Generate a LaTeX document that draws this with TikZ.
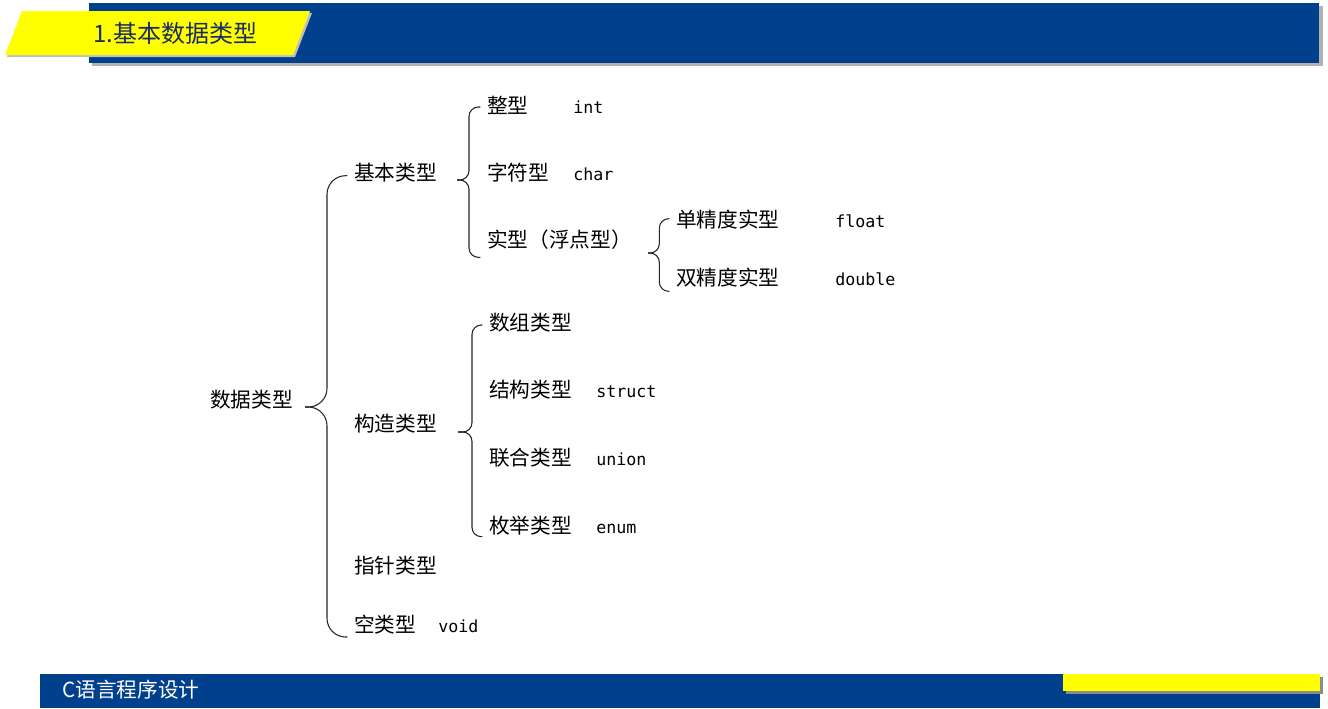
\documentclass[tikz,border=0pt]{standalone}
\usepackage{fontspec}
\newfontfamily\cjk{Noto Sans CJK SC}
\newfontfamily\codefont{DejaVu Sans Mono}
\usetikzlibrary{positioning}
\definecolor{barblue}{RGB}{0,64,140}
\definecolor{baryellow}{RGB}{255,255,0}
\definecolor{titleblue}{RGB}{25,45,100}

\begin{document}
\begin{tikzpicture}[x=0.75pt, y=-0.75pt,
  item/.style={anchor=west, inner sep=0pt, font=\cjk\fontsize{15.5}{18}\selectfont},
  code/.style={anchor=base west, inner sep=0pt, font=\codefont\fontsize{12.5}{15}\selectfont},
  brace/.style={draw=black!85, line width=0.8pt}]
\useasboundingbox (0,0) rectangle (1328,708);

% Header
\fill[black!30] (92,6) rectangle (1323,66);
\fill[barblue] (89,3) rectangle (1319,63);
\fill[black!25] (7,57) -- (24,13) -- (312,13) -- (295,57) -- cycle;
\fill[baryellow] (5,55) -- (22,11) -- (310,11) -- (293,55) -- cycle;
\node[anchor=west, inner sep=0pt, text=titleblue, font=\cjk\fontsize{18}{20}\selectfont] (title) at (93,33) {1.基本数据类型};

% Footer
\fill[barblue] (40,674) rectangle (1320,708);
\fill[black!45] (1066,677) rectangle (1323,694);
\fill[baryellow] (1063,674) rectangle (1320,691);
\node[anchor=west, inner sep=0pt, text=white, font=\cjk\fontsize{15.5}{18}\selectfont] (course) at (62,690) {C语言程序设计};

% Level 1
\node[item] (data) at (210,400) {数据类型};

% Level 2
\node[item] (jiben) at (354,173) {基本类型};
\node[item] (gouzao) at (354,424) {构造类型};
\node[item] (zhizhen) at (354,566) {指针类型};
\node[item] (kong) at (354,625) {空类型};
\node[code] (kvoid) at (438,0 |- kong.base) {void};

% Level 3
\node[item] (zheng) at (487,105) {整型};
\node[code] (kint) at (573,0 |- zheng.base) {int};
\node[item] (zifu) at (487,173) {字符型};
\node[code] (kchar) at (573,0 |- zifu.base) {char};
\node[item] (shi) at (487,240) {实型（浮点型）};
\node[item] (shuzu) at (489,323) {数组类型};
\node[item] (jiegou) at (489,390) {结构类型};
\node[code] (kstruct) at (596,0 |- jiegou.base) {struct};
\node[item] (lianhe) at (489,458) {联合类型};
\node[code] (kunion) at (596,0 |- lianhe.base) {union};
\node[item] (meiju) at (489,526) {枚举类型};
\node[code] (kenum) at (596,0 |- meiju.base) {enum};

% Level 4
\node[item] (dan) at (676,220) {单精度实型};
\node[code] (kfloat) at (835,0 |- dan.base) {float};
\node[item] (shuang) at (676,278) {双精度实型};
\node[code] (kdouble) at (835,0 |- shuang.base) {double};

% Brace tips
\coordinate (datatip) at (305,407);
\coordinate (jibentip) at (457,180);
\coordinate (shitip) at (648,253);
\coordinate (gouzaotip) at (458,432);

% Braces
\draw[brace, rounded corners=14pt] ([xshift=-5pt,yshift=-2pt]jiben.west) -| ([xshift=16.5pt]datatip) -- (datatip);
\draw[brace, rounded corners=14pt] (datatip) -- ([xshift=16.5pt]datatip) |- ([xshift=-5pt,yshift=-9pt]kong.west);
\draw[brace, rounded corners=7pt] ([xshift=-5pt,yshift=-1.5pt]zheng.west) -| ([xshift=9pt]jibentip) -- (jibentip);
\draw[brace, rounded corners=7pt] (jibentip) -- ([xshift=9pt]jibentip) |- ([xshift=-5pt,yshift=-13pt]shi.west);
\draw[brace, rounded corners=7pt] ([xshift=-5pt,yshift=1pt]dan.west) -| ([xshift=8.5pt]shitip) -- (shitip);
\draw[brace, rounded corners=7pt] (shitip) -- ([xshift=8.5pt]shitip) |- ([xshift=-5pt,yshift=-10pt]shuang.west);
\draw[brace, rounded corners=7pt] ([xshift=-5pt,yshift=-1.5pt]shuzu.west) -| ([xshift=10.5pt]gouzaotip) -- (gouzaotip);
\draw[brace, rounded corners=7pt] (gouzaotip) -- ([xshift=10.5pt]gouzaotip) |- ([xshift=-5pt,yshift=-8pt]meiju.west);
\end{tikzpicture}
\end{document}
